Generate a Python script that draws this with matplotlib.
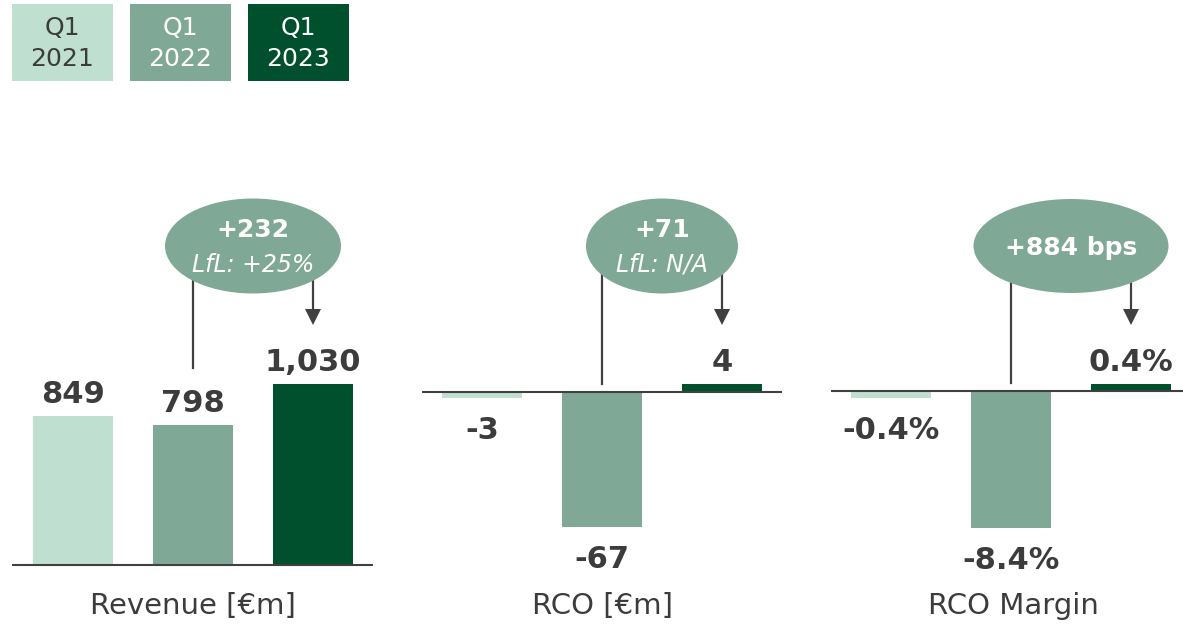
import matplotlib
matplotlib.use("Agg")
import matplotlib.pyplot as plt
from matplotlib.transforms import Affine2D
from matplotlib.patches import Ellipse, Rectangle, Polygon
from matplotlib.lines import Line2D

# ---------------- data ----------------
periods = ["Q1\n2021", "Q1\n2022", "Q1\n2023"]
revenue = [849, 798, 1030]
rco = [-3, -67, 4]
rco_margin = [-0.4, -8.4, 0.4]
panel_titles = ["Revenue [€m]", "RCO [€m]", "RCO Margin"]
bubble_main = ["+232", "+71", "+884 bps"]
bubble_sub = ["LfL: +25%", "LfL: N/A", None]

# ---------------- style ----------------
colors = ["#BFE0D0", "#7FA896", "#00502D"]
legend_text_colors = ["#3C3C3C", "white", "white"]
txt = "#3C3C3C"
line_c = "#404040"
W, H = 1183, 625

fig = plt.figure(figsize=(W / 100, H / 100), dpi=100)
px = Affine2D().scale(1 / W, -1 / H).translate(0, 1) + fig.transFigure


def add_axes_px(left, right, centers0, baseline, scale):
    ax = fig.add_axes([left / W, 0, (right - left) / W, 1])
    ax.set_xlim((left - centers0) / 120, (right - centers0) / 120)
    ax.set_ylim((baseline - H) / scale, baseline / scale)
    ax.axis("off")
    return ax


panels = [
    dict(vals=revenue, fmt=lambda v: f"{v:,}", ax=add_axes_px(12, 373, 73, 565, 181 / 1030)),
    dict(vals=rco, fmt=lambda v: f"{v:d}", ax=add_axes_px(422, 782, 482, 392, 135 / 67)),
    dict(vals=rco_margin, fmt=lambda v: f"{v:.1f}%", ax=add_axes_px(831, 1183, 891, 391, 137 / 8.4)),
]

for p in panels:
    ax = p["ax"]
    x = list(range(len(p["vals"])))
    ax.bar(x, p["vals"], width=80 / 120, color=colors, zorder=2)
    ax.axhline(0, color=line_c, lw=1.5, zorder=3)
    for xi, v in zip(x, p["vals"]):
        if v >= 0:
            ax.annotate(p["fmt"](v), (xi, v), xytext=(0, 13), textcoords="offset pixels",
                        ha="center", va="baseline", fontsize=22, fontweight="bold", color=txt)
        else:
            ax.annotate(p["fmt"](v), (xi, v), xytext=(0, -18), textcoords="offset pixels",
                        ha="center", va="top", fontsize=22, fontweight="bold", color=txt)

# panel titles
title_x = [193, 602, 1013]
for tx, t in zip(title_x, panel_titles):
    fig.text(tx / W, 1 - 614 / H, t, ha="center", va="baseline", fontsize=21, color=txt)

# legend boxes
for i, (lab, c, tc) in enumerate(zip(periods, colors, legend_text_colors)):
    x0 = 12 + 118 * i
    fig.add_artist(Rectangle((x0, 4), 101, 77, transform=px, color=c, lw=0))
    l1, l2 = lab.split("\n")
    fig.text((x0 + 50.5) / W, 1 - 27.5 / H, l1, ha="center", va="center", fontsize=18, color=tc)
    fig.text((x0 + 50.5) / W, 1 - 59 / H, l2, ha="center", va="center", fontsize=18, color=tc)

# bubbles with connectors
bubbles = [
    dict(cx=253, cy=246, w=176, h=95, left=193, left_end=368, right=313),
    dict(cx=662, cy=246, w=152, h=95, left=602, left_end=384, right=722),
    dict(cx=1071, cy=246, w=195, h=94, left=1011, left_end=383, right=1131),
]
for b, main, sub in zip(bubbles, bubble_main, bubble_sub):
    fig.add_artist(Line2D([b["left"], b["left"]], [260, b["left_end"]], transform=px,
                          color=line_c, lw=1.6, zorder=1))
    fig.add_artist(Line2D([b["right"], b["right"]], [260, 312], transform=px,
                          color=line_c, lw=1.6, zorder=1))
    fig.add_artist(Polygon([[b["right"] - 8, 309], [b["right"] + 8, 309], [b["right"], 325]],
                           closed=True, transform=px, color=line_c, lw=0, zorder=1))
    fig.add_artist(Ellipse((b["cx"], b["cy"]), b["w"], b["h"], transform=px,
                           color=colors[1], lw=0, zorder=2))
    if sub is None:
        fig.text(b["cx"] / W, 1 - 248 / H, main, ha="center", va="center", fontsize=18,
                 fontweight="bold", color="white", zorder=3)
    else:
        fig.text(b["cx"] / W, 1 - 230 / H, main, ha="center", va="center", fontsize=18,
                 fontweight="bold", color="white", zorder=3)
        fig.text(b["cx"] / W, 1 - 265 / H, sub, ha="center", va="center", fontsize=17,
                 style="italic", color="white", zorder=3)

fig.savefig("out.png", dpi=100)
